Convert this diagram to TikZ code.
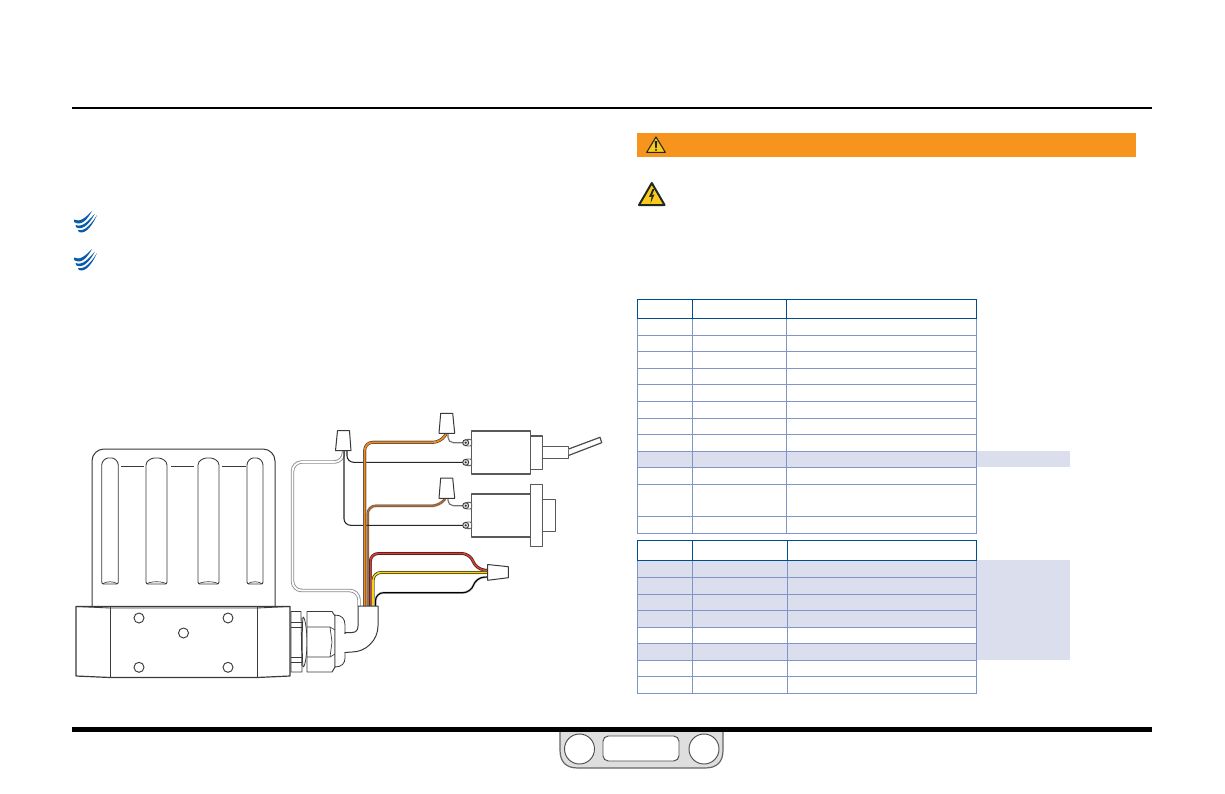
\documentclass[tikz,border=0pt]{standalone}
\usetikzlibrary{calc}
\definecolor{headblue}{HTML}{004E92}
\definecolor{rowblue}{HTML}{7F95C8}
\definecolor{shade}{HTML}{DBDFED}
\definecolor{warnorange}{HTML}{F7941E}
\definecolor{signyellow}{HTML}{FCC91F}
\definecolor{signdark}{HTML}{1F2A1E}
\definecolor{logoblue}{HTML}{0B5CA8}
\definecolor{wireorange}{HTML}{F08A1D}
\definecolor{wirebrown}{HTML}{B0692C}
\definecolor{wirered}{HTML}{E0392B}
\definecolor{wireyellow}{HTML}{F6D50F}
\definecolor{outline}{HTML}{3A3A3A}
\tikzset{
  x=0.75pt,y=-0.75pt,
  part/.style={draw=outline,line width=0.75pt,fill=white,line join=round},
  partline/.style={draw=outline,line width=0.65pt},
  thinwire/.style={draw=black!85,line width=0.8pt,rounded corners=5pt},
  graywire/.style={draw=black!55,line width=0.9pt,rounded corners=4pt},
  whitewire/.style={draw=black!45,line width=2.6pt,rounded corners=7pt,postaction={draw=white,line width=1.3pt}},
  cwire/.style={line width=2.4pt,draw=black!25,rounded corners=6pt,line join=round},
  cblack/.style={line width=1.8pt,draw=black!90,rounded corners=6pt,line join=round},
  tablehead/.style={draw=headblue,line width=0.85pt},
  tablebody/.style={draw=rowblue,line width=0.85pt},
  shadefill/.style={fill=shade,draw=none},
  logomark/.style={fill=logoblue,draw=none},
  term/.style={draw=black!75,line width=0.7pt,fill=black!15},
}
% coloured conductor: #1 colour, #2 width of its black sleeve, #3 width of the colour, #4 path
\newcommand{\colwire}[4]{%
  \draw[cwire] #4;
  \draw[cblack,line width=#2] #4;
  \draw[line width=#3,draw=#1,rounded corners=6pt,line join=round] #4;
}
\begin{document}
\begin{tikzpicture}
\useasboundingbox (0,0) rectangle (1225,793);
\fill[white] (0,0) rectangle (1225,793);

% page rules
\fill[black] (72,107) rectangle (1152,109);

% index tab
\draw[fill=black!13,draw=black!60,line width=0.9pt] (560,728) -- (560,750)
  .. controls (560,762) and (566,768) .. (578,768) -- (705,768)
  .. controls (717,768) and (723,762) .. (723,750) -- (723,728);
\node[circle,draw=black!70,fill=white,line width=0.7pt,minimum size=22.5pt,inner sep=0pt] (tabL) at (579.5,749) {};
\node[circle,draw=black!70,fill=white,line width=0.7pt,minimum size=22.5pt,inner sep=0pt] (tabR) at (704,749) {};
\draw[draw=black!70,fill=white,line width=0.7pt,rounded corners=4pt] (603,736) rectangle (679,761);
\fill[black] (72,727) rectangle (1152,732);

% warning bar
\fill[warnorange] (637,133) rectangle (1136,157);
\draw[fill=signyellow,draw=signdark,line width=0.8pt,line join=round] (656,137) -- (665.3,152.3) -- (646.7,152.3) -- cycle;
\fill[signdark] (654.7,141) -- (657.3,141) -- (656.7,148) -- (655.3,148) -- cycle;
\fill[signdark] (656,150) circle (1.1);
\draw[fill=signyellow,draw=signdark,line width=1.5pt,line join=round] (651.8,183) -- (664.6,205) -- (639,205) -- cycle;
\fill[signdark] (652.5,189) -- (649,197) -- (651.6,196.6) -- (650.6,203) -- (654.5,194.5) -- (652,195) -- (654.5,189) -- cycle;

% logo marks
\foreach \dy in {0,38}{
  \begin{scope}[yshift=-0.75pt*\dy]
    \fill[logomark] (74,219.5) .. controls (80,223) and (86,217) .. (92,211) .. controls (88,218) and (82,227) .. (74,222) -- cycle;
    \fill[logomark] (75.5,225) .. controls (83,228) and (89,220) .. (95,213.5) .. controls (91,221) and (84,231) .. (76.5,227.5) -- cycle;
    \fill[logomark] (78,230) .. controls (85,232) and (92,223) .. (97,215) .. controls (93,224) and (86,235) .. (79,232) -- cycle;
  \end{scope}
}

% table 1
\fill[shadefill] (637.3,451.3) rectangle (1070,467.3);
\foreach \y in {335.3,351.3,368.3,384.3,401.3,418.3,434.3,451.3,467.3,484.3,516.3}
  \draw[tablebody] (637.3,\y) -- (976.7,\y);
\draw[tablebody] (637.3,318.3) -- (637.3,533.3) -- (976.7,533.3) -- (976.7,318.3);
\foreach \x in {692.3,786.7} \draw[tablebody] (\x,318.3) -- (\x,533.3);
\draw[tablehead] (637.3,299.3) rectangle (976.7,318.3);
\foreach \x in {692.3,786.7} \draw[tablehead] (\x,299.3) -- (\x,318.3);

% table 2
\fill[shadefill] (637.3,560.3) rectangle (976.7,627.3);
\fill[shadefill] (637.3,643.3) rectangle (976.7,660.3);
\fill[shadefill] (976.7,560.3) rectangle (1070,660.3);
\foreach \y in {577.3,594.3,610.3,627.3,643.3,660.3,676.3}
  \draw[tablebody] (637.3,\y) -- (976.7,\y);
\draw[tablebody] (637.3,560.3) -- (637.3,693.3) -- (976.7,693.3) -- (976.7,560.3);
\foreach \x in {692.3,787.3} \draw[tablebody] (\x,560.3) -- (\x,693.3);
\draw[tablehead] (637.3,540.7) rectangle (976.7,560.3);
\foreach \x in {692.3,787.3} \draw[tablehead] (\x,540.7) -- (\x,560.3);

% heat-sink plate
\draw[part,rounded corners=9pt] (92,606) -- (92,449) -- (275,449) -- (275,606);
\foreach \a/\b in {121/144,171/194,222/246} \draw[partline] (\a,466.7) -- (\b,466.7);
\foreach \l/\r in {101.7/118.3,146/167,198/219,247/263}{
  \draw[partline,rounded corners=1.5pt] (\l,584) -- (\l,467)
     .. controls (\l,461) and ($(\l,458)!0.25!(\r,458)$) .. ($(\l,458)!0.5!(\r,458)$)
     .. controls ($(\l,458)!0.75!(\r,458)$) and (\r,461) .. (\r,467) -- (\r,584) -- cycle;
  \draw[partline,line width=0.5pt] ($(\l,584)+(1,0)$) .. controls ($(\l,581)+(3,0)$) and ($(\r,581)-(3,0)$) .. ($(\r,584)-(1,0)$);
}

% manifold base
\draw[part,line width=0.9pt] (76,606.5) -- (290,606.5) -- (290,676) -- (257,677.5) -- (110,677.5) -- (76,676) -- cycle;
\draw[partline] (76,606.5) -- (110,608) -- (257,608) -- (290,606.5);
\draw[partline] (110,607) -- (110,677.5);
\draw[partline] (257,607) -- (257,677.5);
\foreach \n/\cx/\cy in {h1/139/618,h2/228/618,h3/183.5/633,h4/139/667.3,h5/228/667.3}
  \node[circle,draw=outline,fill=white,line width=0.7pt,minimum size=7.5pt,inner sep=0pt] (\n) at (\cx,\cy) {};

% cable gland
\draw[part,line width=0.6pt] (291,611.5) -- (301,611.5) -- (302,672) -- (291,672) -- cycle;
\draw[partline,line width=0.5pt] (291,622) -- (302,622) (291,627) -- (302,627) (291,657) -- (302,657) (291,662) -- (302,662);
\draw[part,line width=0.6pt] (303,617) .. controls (305,617) and (307,630) .. (307,642) .. controls (307,655) and (305,667) .. (303,667) .. controls (302,660) and (302,625) .. (303,617) -- cycle;
\draw[part,line width=0.7pt] (307,611.5) -- (332,611.5) -- (335,616) -- (335,667) -- (332,672) -- (307,672) -- cycle;
\draw[partline,line width=0.5pt] (307,627) -- (330,627) -- (335,630) (307,657) -- (330,657) -- (335,654);
\draw[partline,line width=0.5pt] (330,627) -- (332,642) -- (330,657);
\draw[part,line width=0.6pt] (335,615) .. controls (342,615) and (345,619) .. (345,625) -- (345,658) .. controls (345,663) and (342,667) .. (335,667) -- cycle;

% white wire
\draw[whitewire] (343.5,451) -- (343.5,462) -- (292.5,462) -- (292.5,590.5) -- (359,590.5) -- (359,606);

% named ends of the wires
\coordinate (nutAa) at (344,450);
\coordinate (nutAb) at (347,450);
\coordinate (nutBt) at (448,433.5);
\coordinate (nutCt) at (448,498.5);
\coordinate (termA) at (465.7,442.7);
\coordinate (termB) at (465.7,462.3);
\coordinate (termC) at (465.7,505.7);
\coordinate (termD) at (465.7,525.3);
\draw[thinwire] (nutAb) |- (termB);
\draw[graywire] (nutBt) |- (termA);
\draw[graywire] (nutCt) |- (termC);

% coloured conductors
\colwire{wirebrown}{1.3pt}{1.2pt}{(367.7,606) -- (367.7,505.8) -- (440,505.8) [sharp corners] -- (445,499)}
\draw[thinwire] (nutAa) |- (termD);
\colwire{wireorange}{2pt}{1.4pt}{(364.7,606) -- (364.7,442.3) -- (441,442.3) [sharp corners] -- (446,434)}
\colwire{wirered}{2pt}{1.2pt}{(370.3,606) -- (370.3,553.5) -- (470,553.5) -- (476,569) -- (488,570.5)}
\colwire{wireyellow}{2pt}{1.2pt}{(373,606) -- (373,572.5) -- (488,572.5)}
\draw[line width=1.8pt,draw=black!22,rounded corners=6pt] (375.5,606) -- (375.5,592.7) -- (471,592.7) -- (476,577.5) -- (488,577);
\draw[line width=0.85pt,draw=black,rounded corners=6pt] (375.5,606) -- (375.5,592.7) -- (471,592.7) -- (476,577.5) -- (488,577);

% elbow
\draw[part] (358,606) -- (378,606) -- (378,626) .. controls (378,640) and (366,652) .. (352,652) -- (345,652.5)
  -- (345,632.5) -- (352,632.5) .. controls (356,632.5) and (358,630) .. (358,626) -- cycle;
\fill[white] (346,633.5) rectangle (344,651.5);

% wire nuts
\draw[part,fill=white] (337.5,430.7) -- (349.5,430.7) -- (351,450.7) -- (335.5,450.7) -- cycle;
\draw[part,fill=white] (440.7,413.3) -- (452.7,413.3) -- (454.7,433.3) -- (439,433.3) -- cycle;
\draw[part,fill=white] (440.7,478) -- (452.7,478) -- (454.7,498.3) -- (439,498.3) -- cycle;
\draw[part,fill=white] (487.7,564.5) -- (508.3,566.7) -- (508.3,577.7) -- (487.7,580.3) -- cycle;

% switch
\draw[part,line width=0.9pt,draw=black!65] (471.7,431) rectangle (530.7,474);
\draw[part,line width=0.9pt,draw=black!65] (530.7,436) rectangle (542.7,469.3);
\draw[part,line width=0.9pt,draw=black!65] (542.7,446.7) rectangle (568.7,458.7);
\draw[part,line width=0.9pt,draw=black!70] (568.7,449) -- (600,437.3) -- (601.7,442.7) -- (569,455.3);

% push button
\draw[part,line width=0.9pt,draw=black!65] (471.7,494) rectangle (530.7,537);
\draw[part,line width=0.9pt,draw=black!65] (542.7,499.3) rectangle (555.3,531.7);
\draw[part,line width=0.9pt,draw=black!65] (530.7,484.7) rectangle (542.7,546.7);

% terminals
\foreach \c in {termA,termB,termC,termD}{
  \draw[draw=black!60,line width=0.7pt,fill=white,rounded corners=1pt] ($(\c)+(0,-3.3)$) -- ($(\c)+(6,-3.3)$) -- ($(\c)+(6,3.3)$) -- ($(\c)+(0,3.3)$) -- cycle;
  \fill[term] (\c) circle (3);
  \fill[black!80] (\c) circle (1.1);
}
\end{tikzpicture}
\end{document}
